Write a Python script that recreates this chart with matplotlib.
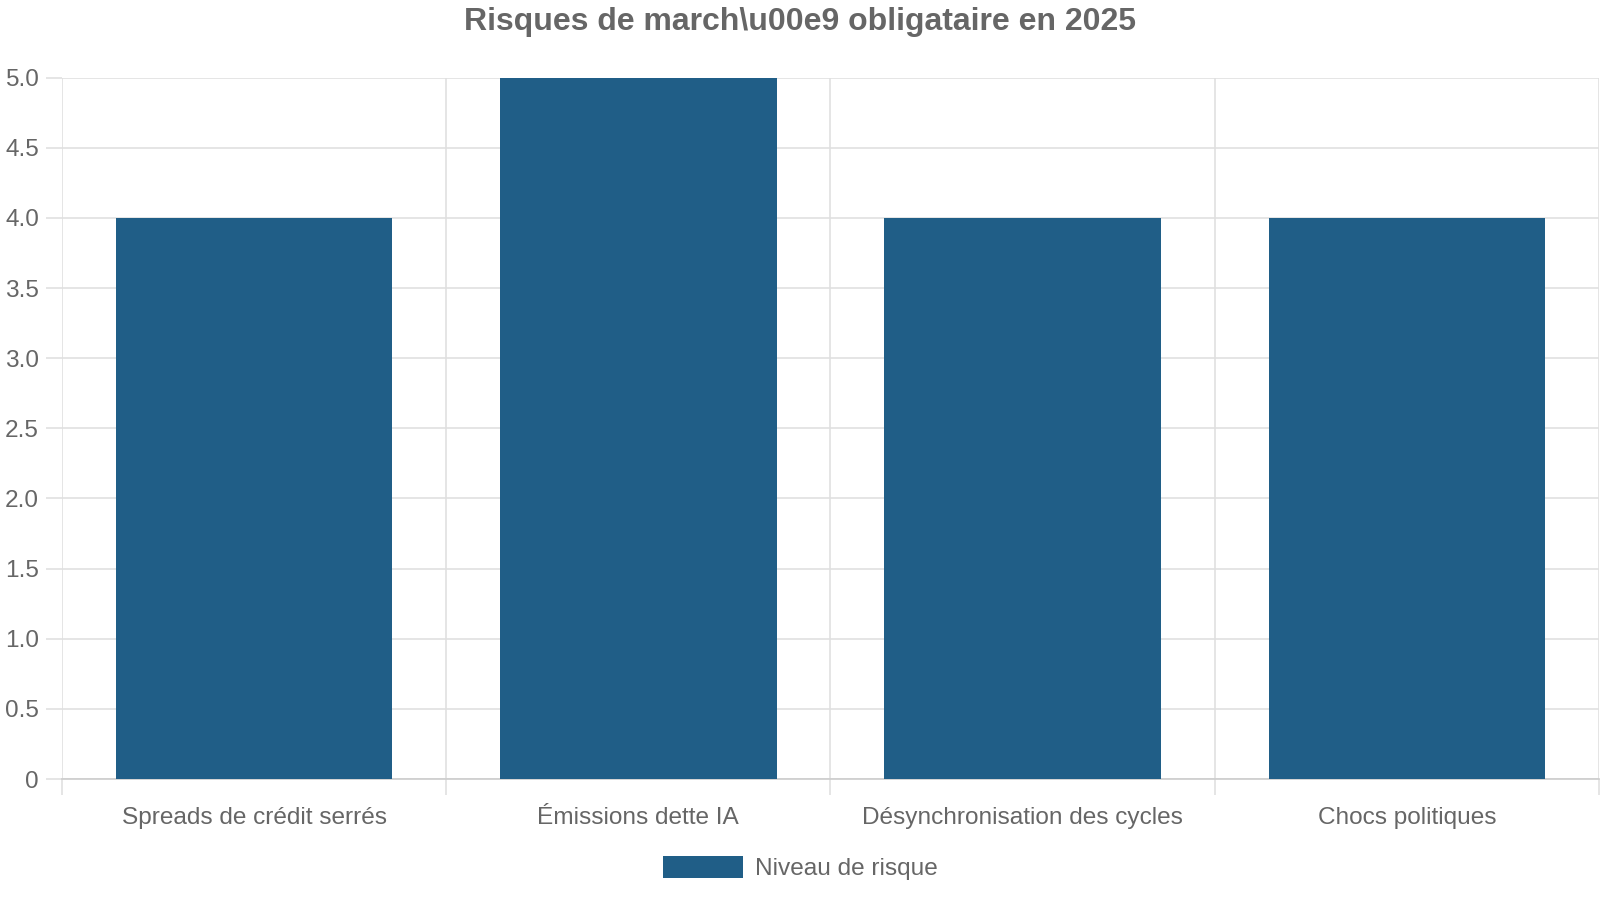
import matplotlib
matplotlib.use("Agg")
import matplotlib.pyplot as plt
from matplotlib.patches import Patch

categories = ["Spreads de crédit serrés", "Émissions dette IA", "Désynchronisation des cycles", "Chocs politiques"]
values = [4, 5, 4, 4]
series_name = "Niveau de risque"
title = r"Risques de march\u00e9 obligataire en 2025"
yticks = [0, 0.5, 1.0, 1.5, 2.0, 2.5, 3.0, 3.5, 4.0, 4.5, 5.0]
ytick_labels = ["0", "0.5", "1.0", "1.5", "2.0", "2.5", "3.0", "3.5", "4.0", "4.5", "5.0"]

plt.rcParams['font.family'] = ['Liberation Sans', 'DejaVu Sans']
W, H = 1600, 900
fig = plt.figure(figsize=(16, 9), dpi=100)
bar_color = "#205E87"
text_color = "#666666"
grid_color = "#e0e0e0"

left, right, top, bottom = 62, 1599, 77.7, 779
ax = fig.add_axes([left / W, 1 - bottom / H, (right - left) / W, (bottom - top) / H])

x = list(range(len(categories)))
ax.bar(x, values, width=0.72, color=bar_color, zorder=3)
ax.set_xlim(-0.5, len(categories) - 0.5)
ax.set_ylim(0, 5)

ax.set_yticks(yticks)
ax.set_yticklabels(ytick_labels)
ax.set_xticks(x)
ax.set_xticklabels(categories)
ax.set_xticks([i - 0.5 for i in range(len(categories) + 1)], minor=True)

for s in ["top", "right", "left"]:
    ax.spines[s].set_visible(False)
ax.spines["bottom"].set_color("#cccccc")
ax.spines["bottom"].set_linewidth(1.2)

fs = 17.6
ax.grid(axis="y", which="major", color=grid_color, linewidth=1.2, zorder=0)
ax.grid(axis="x", which="minor", color=grid_color, linewidth=1.2, zorder=0)
ax.tick_params(axis="y", which="major", length=11.5, width=1.2, color=grid_color, pad=5,
               labelsize=fs, labelcolor=text_color)
ax.tick_params(axis="x", which="major", length=0, pad=20, labelsize=fs, labelcolor=text_color)
ax.tick_params(axis="x", which="minor", length=11.5, width=1.2, color=grid_color)

fig.text(0.5, 1 - 22 / H, title, ha="center", va="center", fontsize=23,
         fontweight="bold", color=text_color)

fpx = fs / 0.72
handle = Patch(facecolor=bar_color, edgecolor="none", label=series_name)
fig.legend(handles=[handle], loc="center", bbox_to_anchor=(0.5, 1 - 868 / H),
           frameon=False, fontsize=fs, labelcolor=text_color,
           handlelength=80 / fpx, handleheight=24 / fpx, handletextpad=12 / fpx,
           borderpad=0, borderaxespad=0)

fig.savefig("out.png", dpi=100, facecolor="white")
